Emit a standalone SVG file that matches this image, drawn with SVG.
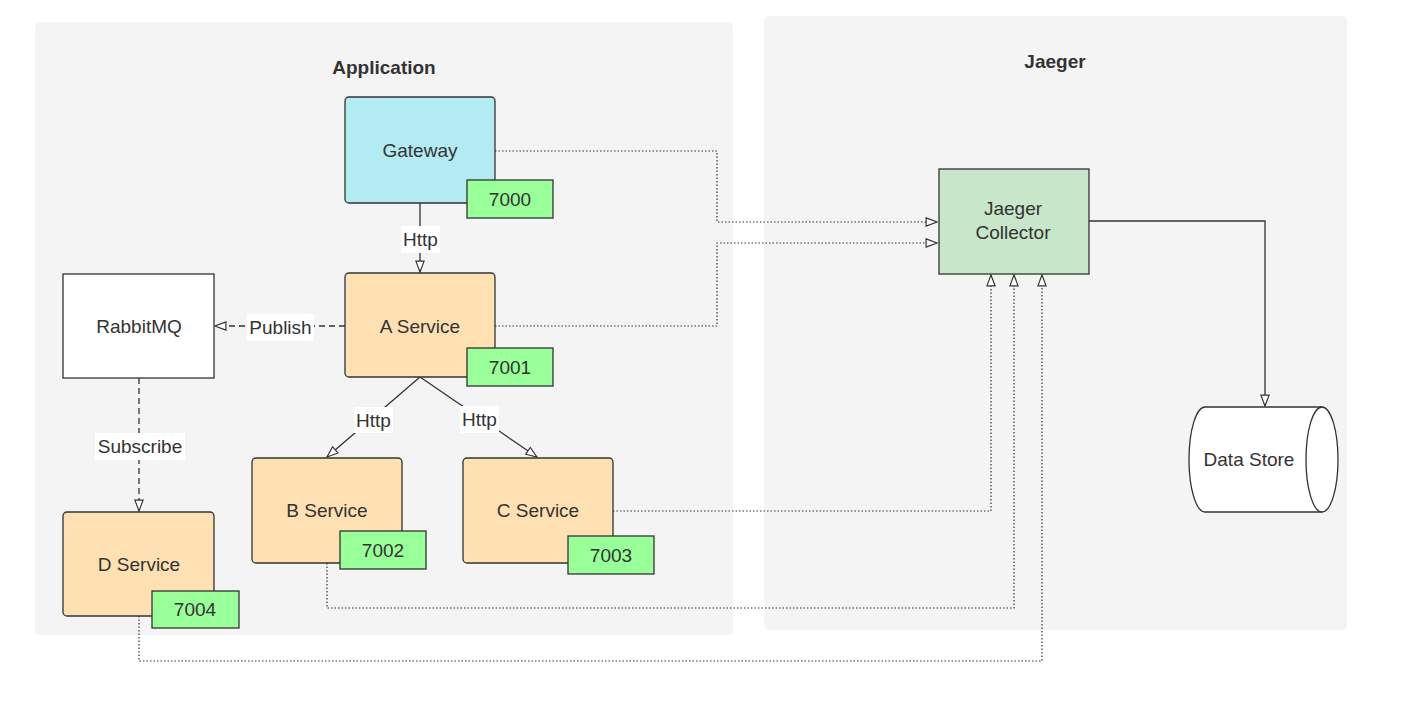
<svg xmlns="http://www.w3.org/2000/svg" width="1401" height="709" viewBox="0 0 1401 709">
<style>
text{font-family:"Liberation Sans",Arial,sans-serif;fill:#333;font-size:19px;text-anchor:middle;dominant-baseline:central}
.title{font-weight:bold}
.box{stroke:#333;stroke-width:1.3}
.svc{fill:#ffe0b2}
.port{fill:#99ff99}
.link{fill:none;stroke:#333;stroke-width:1.3}
.dot{fill:none;stroke:#333;stroke-width:1.2;stroke-dasharray:1.5 2}
.dash{stroke-dasharray:6 4}
.lbl{fill:#fff}
</style>
<defs>
<marker id="arr" markerUnits="userSpaceOnUse" markerWidth="14" markerHeight="10" refX="12" refY="4.5" orient="auto" viewBox="-1 -1 14 11">
<path d="M0,0 L12,4.5 L0,9 Z" fill="#fff" stroke="#333" stroke-width="1.3"/>
</marker>
</defs>
<rect width="1401" height="709" fill="#fff"/>
<g id="application">
<rect x="35" y="22" width="698" height="613" rx="5" fill="#f4f4f4"/>
<text class="title" x="384" y="67">Application</text>
</g>
<g id="jaeger">
<rect x="764" y="16" width="583" height="614" rx="5" fill="#f4f4f4"/>
<text class="title" x="1055" y="61">Jaeger</text>
</g>
<g id="connectors">
<path class="link" d="M420,203 V272" marker-end="url(#arr)"/>
<path class="link" d="M420,377 L327,457" marker-end="url(#arr)"/>
<path class="link" d="M420,377 L537,457" marker-end="url(#arr)"/>
<path class="link dash" d="M345,326 H215" marker-end="url(#arr)"/>
<path class="link dash" d="M139,378 V511" marker-end="url(#arr)"/>
<path class="dot" d="M495,151 H717 V222 H937" marker-end="url(#arr)"/>
<path class="dot" d="M495,326 H717 V243 H937" marker-end="url(#arr)"/>
<path class="dot" d="M613,511 H991 V275" marker-end="url(#arr)"/>
<path class="dot" d="M327,563 V608 H1014 V275" marker-end="url(#arr)"/>
<path class="dot" d="M139,616 V661 H1042 V275" marker-end="url(#arr)"/>
<path class="link" d="M1089,221 H1265 V406" marker-end="url(#arr)"/>
<rect class="lbl" x="401" y="226" width="39" height="27"/>
<text x="420.5" y="239.5">Http</text>
<rect class="lbl" x="354" y="407" width="39" height="26"/>
<text x="373.5" y="420">Http</text>
<rect class="lbl" x="460" y="406" width="39" height="27"/>
<text x="479.5" y="419.5">Http</text>
<rect class="lbl" x="247" y="314" width="67" height="27"/>
<text x="280.5" y="327">Publish</text>
<rect class="lbl" x="95" y="433" width="90" height="27"/>
<text x="140" y="446">Subscribe</text>
</g>
<g id="gateway">
<rect class="box" x="345" y="97" width="150" height="106" rx="4" fill="#b2ebf2"/>
<text x="420" y="150">Gateway</text>
<rect class="box port" x="467" y="180" width="86" height="38"/>
<text x="510" y="199">7000</text>
</g>
<g id="a-service">
<rect class="box svc" x="345" y="273" width="150" height="104" rx="4"/>
<text x="420" y="326">A Service</text>
<rect class="box port" x="467" y="348" width="86" height="38"/>
<text x="510" y="367">7001</text>
</g>
<g id="rabbitmq">
<rect class="box" x="63" y="274" width="151" height="104" fill="#fff"/>
<text x="139" y="326">RabbitMQ</text>
</g>
<g id="b-service">
<rect class="box svc" x="252" y="458" width="150" height="105" rx="4"/>
<text x="327" y="510">B Service</text>
<rect class="box port" x="340" y="531" width="86" height="38"/>
<text x="383" y="550">7002</text>
</g>
<g id="c-service">
<rect class="box svc" x="463" y="458" width="150" height="105" rx="4"/>
<text x="538" y="510">C Service</text>
<rect class="box port" x="568" y="536" width="86" height="38"/>
<text x="611" y="555">7003</text>
</g>
<g id="d-service">
<rect class="box svc" x="63" y="512" width="151" height="104" rx="4"/>
<text x="139" y="564">D Service</text>
<rect class="box port" x="152" y="591" width="87" height="37"/>
<text x="195" y="609.5">7004</text>
</g>
<g id="jaeger-collector">
<rect class="box" x="939" y="169" width="150" height="105" fill="#c8e6c9"/>
<text x="1013" y="208">Jaeger</text>
<text x="1013" y="232">Collector</text>
</g>
<g id="data-store">
<path class="box" d="M1205,407 H1322 A16,52.5 0 0 1 1322,512 H1205 A16,52.5 0 0 1 1205,407 Z" fill="#fff"/>
<path class="box" d="M1322,407 A16,52.5 0 0 0 1322,512" fill="none"/>
<text x="1249" y="459">Data Store</text>
</g>
</svg>
